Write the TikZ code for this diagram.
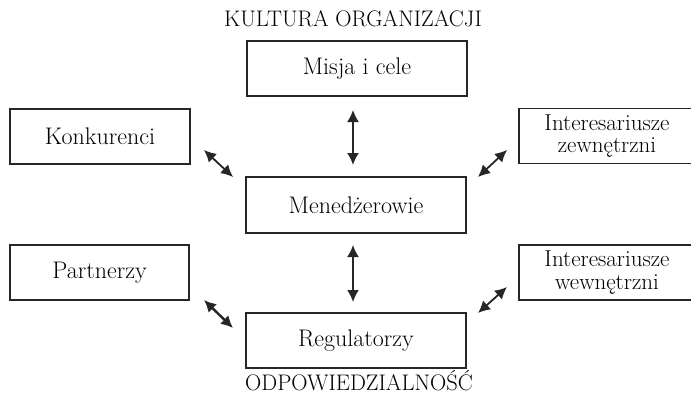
\documentclass[tikz,border=0pt]{standalone}
\usepackage{fontspec}
\setmainfont{Latin Modern Roman}
\usetikzlibrary{arrows.meta}
\begin{document}
\begin{tikzpicture}[x=1pt,y=-1pt,
  box/.style={draw=black!85, line width=1.2pt, inner sep=0pt, minimum height=55pt, align=center,
    font=\fontsize{24}{22}\selectfont},
  box2/.style={box, font=\fontsize{23}{22.5}\selectfont},
  lbl/.style={font=\fontsize{22.5}{24}\selectfont, inner sep=1pt},
  dbl/.style={line width=1.8pt, black!85, {Latex[length=12pt,width=12pt]}-{Latex[length=12pt,width=12pt]}}]
\useasboundingbox (0,0) rectangle (691,396);
\clip (0,0) rectangle (691,396);
\node[lbl] (kult) at (353,19) {KULTURA ORGANIZACJI};
\node[lbl] (odp) at (359,381) {ODPOWIEDZIALNOŚĆ};
\node[box, minimum width=220pt] (misja) at (357,68.5) {Misja i cele};
\node[box, minimum width=180pt] (konk) at (100,136.5) {Konkurenci};
\node[box2, minimum width=176pt] (intz) at (607,136) {Interesariusze\\zewnętrzni};
\node[box, minimum width=220pt, minimum height=56pt] (mened) at (356,205) {Menedżerowie};
\node[box, minimum width=179pt] (partn) at (99.5,272.5) {Partnerzy};
\node[box2, minimum width=176pt] (intw) at (607,272.5) {Interesariusze\\wewnętrzni};
\node[box, minimum width=220pt] (regul) at (356,340.5) {Regulatorzy};
\coordinate (a1) at (353,110); \coordinate (a2) at (353,165);
\coordinate (b1) at (353,245); \coordinate (b2) at (353,302);
\coordinate (c1) at (204,150); \coordinate (c2) at (233,177);
\coordinate (d1) at (478,177); \coordinate (d2) at (507,150);
\coordinate (e1) at (204,300); \coordinate (e2) at (233,328);
\coordinate (f1) at (478,313); \coordinate (f2) at (507,287);
\draw[dbl] (a1) -- (a2);
\draw[dbl] (b1) -- (b2);
\draw[dbl] (c1) -- (c2);
\draw[dbl] (d1) -- (d2);
\draw[dbl, line width=2.4pt] (e1) -- (e2);
\draw[dbl] (f1) -- (f2);
\end{tikzpicture}
\end{document}
